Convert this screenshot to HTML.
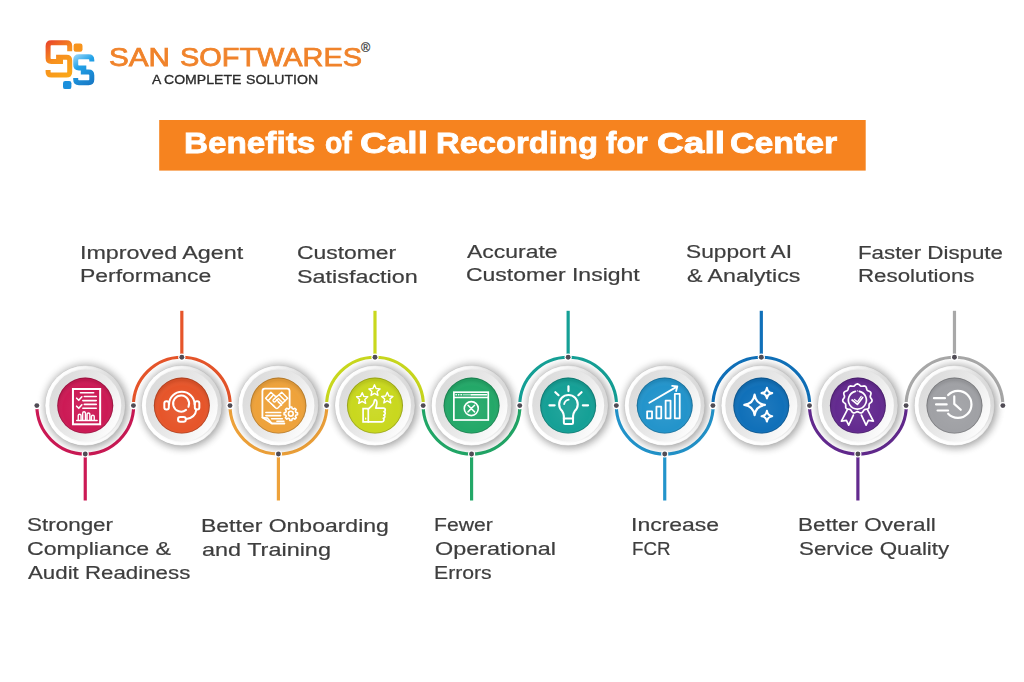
<!DOCTYPE html>
<html><head><meta charset="utf-8">
<style>
html,body{margin:0;padding:0;background:#fff;}
body{width:1024px;height:682px;position:relative;overflow:hidden;}
.lb{position:absolute;font-family:"Liberation Sans",sans-serif;color:#3e3e3e;-webkit-text-stroke:0.2px #3e3e3e;line-height:0;white-space:nowrap;transform-origin:0 0;}
.t{position:absolute;font-family:"Liberation Sans",sans-serif;white-space:nowrap;line-height:0;transform-origin:0 0;}
svg{position:absolute;left:0;top:0;}
</style></head><body>
<svg width="1024" height="682" viewBox="0 0 1024 682">
<defs>
<linearGradient id="gRim" x1="0.1" y1="0.7" x2="0.9" y2="0.3"><stop offset="0" stop-color="#fff" stop-opacity="1"/><stop offset="0.6" stop-color="#fff" stop-opacity="0.7"/><stop offset="1" stop-color="#fff" stop-opacity="0"/></linearGradient>
<radialGradient id="gCol" cx="0.5" cy="0.55" r="0.5"><stop offset="0" stop-color="#fff" stop-opacity="0.07"/><stop offset="0.8" stop-color="#fff" stop-opacity="0"/><stop offset="1" stop-color="#000" stop-opacity="0.08"/></radialGradient>
<filter id="sh" x="-50%" y="-50%" width="200%" height="200%"><feGaussianBlur stdDeviation="4"/></filter>
<linearGradient id="gOuter" x1="0.05" y1="0.65" x2="0.95" y2="0.35"><stop offset="0" stop-color="#ffffff"/><stop offset="0.5" stop-color="#f5f5f5"/><stop offset="1" stop-color="#d9d9d9"/></linearGradient>
<linearGradient id="gInner" x1="0.1" y1="0.25" x2="0.9" y2="0.75"><stop offset="0" stop-color="#dcdcdc"/><stop offset="0.55" stop-color="#eaeaea"/><stop offset="1" stop-color="#fbfbfb"/></linearGradient>
<linearGradient id="logoO" gradientUnits="userSpaceOnUse" x1="46" y1="41" x2="72" y2="78"><stop offset="0" stop-color="#e8412a"/><stop offset="0.45" stop-color="#f7901e"/><stop offset="1" stop-color="#fbab18"/></linearGradient>
<linearGradient id="logoB" gradientUnits="userSpaceOnUse" x1="74" y1="55" x2="94" y2="85"><stop offset="0" stop-color="#9ad6f7"/><stop offset="0.35" stop-color="#22a2e8"/><stop offset="1" stop-color="#1775c2"/></linearGradient>
</defs>
<rect x="159.2" y="120" width="706.5" height="50.6" fill="#f6831f"/>

<g fill="none" stroke-width="5" stroke-linecap="butt" stroke-linejoin="round">
<path d="M69.7,51.3 V46 Q69.7,42.8 66.5,42.8 H51.3 Q48.1,42.8 48.1,46 V58.3 Q48.1,61.5 51.3,61.5 H63" stroke="url(#logoO)"/>
<path d="M56.1,57.2 H66.5 Q69.7,57.2 69.7,60.4 V71.9 Q69.7,75.1 66.5,75.1 H51.3 Q48.1,75.1 48.1,71.9 V70" stroke="url(#logoO)"/>
<path d="M91.8,61.5 V60 Q91.8,56.8 88.6,56.8 H78.9 Q75.7,56.8 75.7,60 V64.7 Q75.7,67.9 78.9,67.9 H86.3" stroke="url(#logoB)"/>
<path d="M80.8,72.1 H88.6 Q91.8,72.1 91.8,75.3 V79.5 Q91.8,82.7 88.6,82.7 H78.9 Q75.7,82.7 75.7,79.5 V78" stroke="url(#logoB)"/>
</g>
<rect x="73.6" y="43.6" width="8.9" height="8.1" rx="2.2" fill="#f7941d"/>
<rect x="63" y="81" width="8.4" height="8.1" rx="2.2" fill="#1a8fdc"/>

<path d="M36.85,405.6 A48.4,48.4 0 0 0 133.65,405.6" fill="none" stroke="#cc1a55" stroke-width="3.1"/><line x1="85.25" y1="454.00" x2="85.25" y2="500.5" stroke="#cc1a55" stroke-width="3.2"/><path d="M133.43,405.6 A48.4,48.4 0 0 1 230.23,405.6" fill="none" stroke="#e6552a" stroke-width="3.1"/><line x1="181.83" y1="310.8" x2="181.83" y2="357.20" stroke="#e6552a" stroke-width="3.2"/><path d="M230.01,405.6 A48.4,48.4 0 0 0 326.81,405.6" fill="none" stroke="#eea23a" stroke-width="3.1"/><line x1="278.41" y1="454.00" x2="278.41" y2="500.5" stroke="#eea23a" stroke-width="3.2"/><path d="M326.59,405.6 A48.4,48.4 0 0 1 423.39,405.6" fill="none" stroke="#c9d81e" stroke-width="3.1"/><line x1="374.99" y1="310.8" x2="374.99" y2="357.20" stroke="#c9d81e" stroke-width="3.2"/><path d="M423.17,405.6 A48.4,48.4 0 0 0 519.97,405.6" fill="none" stroke="#23a868" stroke-width="3.1"/><line x1="471.57" y1="454.00" x2="471.57" y2="500.5" stroke="#23a868" stroke-width="3.2"/><path d="M519.75,405.6 A48.4,48.4 0 0 1 616.55,405.6" fill="none" stroke="#15a096" stroke-width="3.1"/><line x1="568.15" y1="310.8" x2="568.15" y2="357.20" stroke="#15a096" stroke-width="3.2"/><path d="M616.33,405.6 A48.4,48.4 0 0 0 713.13,405.6" fill="none" stroke="#2394cb" stroke-width="3.1"/><line x1="664.73" y1="454.00" x2="664.73" y2="500.5" stroke="#2394cb" stroke-width="3.2"/><path d="M712.91,405.6 A48.4,48.4 0 0 1 809.71,405.6" fill="none" stroke="#1070b9" stroke-width="3.1"/><line x1="761.31" y1="310.8" x2="761.31" y2="357.20" stroke="#1070b9" stroke-width="3.2"/><path d="M809.49,405.6 A48.4,48.4 0 0 0 906.29,405.6" fill="none" stroke="#632a8f" stroke-width="3.1"/><line x1="857.89" y1="454.00" x2="857.89" y2="500.5" stroke="#632a8f" stroke-width="3.2"/><path d="M906.07,405.6 A48.4,48.4 0 0 1 1002.87,405.6" fill="none" stroke="#a8a8a8" stroke-width="3.1"/><line x1="954.47" y1="310.8" x2="954.47" y2="357.20" stroke="#a8a8a8" stroke-width="3.2"/>
<g transform="translate(85.25,405.6)"><circle r="41.5" fill="#000" opacity="0.22" filter="url(#sh)" transform="translate(0.8,0)"/><circle r="40.5" fill="#000" opacity="0.2" filter="url(#sh)" transform="translate(1.5,2.2)"/><circle r="40" fill="url(#gOuter)" stroke="#000" stroke-opacity="0.05" stroke-width="0.8"/><circle r="38.3" fill="none" stroke="url(#gRim)" stroke-width="2.4"/><circle r="36" fill="url(#gInner)"/><circle r="28" fill="#cc1a55"/><circle r="28" fill="url(#gCol)"/><circle r="27.6" fill="none" stroke="#000" stroke-opacity="0.18" stroke-width="1"/><g stroke="#fff" fill="none" stroke-linecap="round" stroke-linejoin="round"><rect x="-12.3" y="-16.6" width="27.2" height="35.3" stroke-width="2" stroke-linejoin="miter"/><path d="M-4.8,-12.9 H8.4" stroke-width="1.6"/><path d="M-8.6,-7.4 L-6.5,-5.3 L-3.4,-8.8 M-8.6,0.6 L-6.5,2.7 L-3.4,-0.8" stroke-width="1.6"/><path d="M-0.9,-9.1 H11 M-2.4,-5 H11 M-0.9,-1.2 H11 M-2.4,2.6 H11" stroke-width="1.6"/><path d="M-8.5,14.8 H11.8" stroke-width="1.5"/><path d="M-7,14.8 V10 Q-7,8.6 -5.6,8.6 Q-4.2,8.6 -4.2,10 V14.8 M-2.6,14.8 V7.6 Q-2.6,6.2 -1.2,6.2 Q0.2,6.2 0.2,7.6 V14.8 M1.8,14.8 V8.8 Q1.8,7.4 3.2,7.4 Q4.6,7.4 4.6,8.8 V14.8 M6.2,14.8 V11 Q6.2,9.6 7.6,9.6 Q9,9.6 9,11 V14.8" stroke-width="1.4"/></g></g>
<g transform="translate(181.83,405.6)"><circle r="41.5" fill="#000" opacity="0.22" filter="url(#sh)" transform="translate(0.8,0)"/><circle r="40.5" fill="#000" opacity="0.2" filter="url(#sh)" transform="translate(1.5,2.2)"/><circle r="40" fill="url(#gOuter)" stroke="#000" stroke-opacity="0.05" stroke-width="0.8"/><circle r="38.3" fill="none" stroke="url(#gRim)" stroke-width="2.4"/><circle r="36" fill="url(#gInner)"/><circle r="28" fill="#e6552a"/><circle r="28" fill="url(#gCol)"/><circle r="27.6" fill="none" stroke="#000" stroke-opacity="0.18" stroke-width="1"/><g stroke="#fff" fill="none" stroke-linecap="round" stroke-linejoin="round"><path d="M-12.8,-1 A12.8,12.8 0 0 1 12.8,-1" stroke-width="2"/><path d="M4.2,4.3 A8,8 0 1 1 6.6,1.2" stroke-width="2"/><rect x="-17.5" y="-4.3" width="4.5" height="8.2" rx="2" stroke-width="2"/><rect x="13" y="-4.3" width="4.5" height="8.2" rx="2" stroke-width="2"/><path d="M14.5,4 Q13.5,12 4.5,13.5" stroke-width="2"/><rect x="-3.8" y="11.5" width="7.8" height="4.6" rx="2.3" stroke-width="2"/></g></g>
<g transform="translate(278.41,405.6)"><circle r="41.5" fill="#000" opacity="0.22" filter="url(#sh)" transform="translate(0.8,0)"/><circle r="40.5" fill="#000" opacity="0.2" filter="url(#sh)" transform="translate(1.5,2.2)"/><circle r="40" fill="url(#gOuter)" stroke="#000" stroke-opacity="0.05" stroke-width="0.8"/><circle r="38.3" fill="none" stroke="url(#gRim)" stroke-width="2.4"/><circle r="36" fill="url(#gInner)"/><circle r="28" fill="#eea23a"/><circle r="28" fill="url(#gCol)"/><circle r="27.6" fill="none" stroke="#000" stroke-opacity="0.18" stroke-width="1"/><g stroke="#fff" fill="none" stroke-linecap="round" stroke-linejoin="round"><path d="M6,17.9 H-6.5 L-16,11.9 V-14.5 Q-16,-17 -13.5,-17 H8.7 Q11.2,-17 11.2,-14.5 V0.6" stroke-width="1.8"/><path d="M-16,11.9 L-11,12.5 L-6.5,17.9" stroke-width="1.6"/><path d="M-12.8,-7.3 L-7.5,-13.3 L-4.9,-10.8 L-10.3,-4.8 Z M3.3,-13.3 L9.3,-7.3 L6.7,-4.8 L0.7,-10.8 Z" stroke-width="1.5"/><path d="M-10.3,-4.8 L-2.5,2.5 Q-1.5,3.5 -0.5,2.5 L6.7,-4.8 M0.7,-10.8 L-1,-9.5 Q-3,-8.5 -4.9,-10.8 M-1,-9.5 L-5,-6 Q-6,-5 -5,-4 Q-4,-3 -3,-4 L0,-7 L4.5,-2.5" stroke-width="1.4"/><path d="M-7.5,-2.3 L-4.3,0.7 M-5.8,-0.2 L-3,2.3 M-2,-6 L2.3,-1.8 M-0.3,-3.5 L3.2,-0.3" stroke-width="1.2"/><path d="M-12.5,6.9 H2.3 M-12.5,10 H2.3 M-6.8,13.1 H3.9 M-1.5,15.7 H5.5" stroke-width="1.6"/><polygon points="17.54,6.79 19.12,7.08 19.12,9.12 17.54,9.41 16.96,10.80 17.87,12.14 16.44,13.57 15.10,12.66 13.71,13.24 13.42,14.82 11.38,14.82 11.09,13.24 9.70,12.66 8.36,13.57 6.93,12.14 7.84,10.80 7.26,9.41 5.68,9.12 5.68,7.08 7.26,6.79 7.84,5.40 6.93,4.06 8.36,2.63 9.70,3.54 11.09,2.96 11.38,1.38 13.42,1.38 13.71,2.96 15.10,3.54 16.44,2.63 17.87,4.06 16.96,5.40" stroke-width="1.6"/><circle cx="12.4" cy="8.1" r="2.4" stroke-width="1.6"/></g></g>
<g transform="translate(374.99,405.6)"><circle r="41.5" fill="#000" opacity="0.22" filter="url(#sh)" transform="translate(0.8,0)"/><circle r="40.5" fill="#000" opacity="0.2" filter="url(#sh)" transform="translate(1.5,2.2)"/><circle r="40" fill="url(#gOuter)" stroke="#000" stroke-opacity="0.05" stroke-width="0.8"/><circle r="38.3" fill="none" stroke="url(#gRim)" stroke-width="2.4"/><circle r="36" fill="url(#gInner)"/><circle r="28" fill="#c9d81e"/><circle r="28" fill="url(#gCol)"/><circle r="27.6" fill="none" stroke="#000" stroke-opacity="0.18" stroke-width="1"/><g stroke="#fff" fill="none" stroke-linecap="round" stroke-linejoin="round"><polygon points="-12.80,-12.90 -11.17,-9.24 -7.19,-8.82 -10.16,-6.14 -9.33,-2.23 -12.80,-4.23 -16.27,-2.23 -15.44,-6.14 -18.41,-8.82 -14.43,-9.24" stroke-width="1.4"/><polygon points="-0.50,-20.80 1.13,-17.14 5.11,-16.72 2.14,-14.04 2.97,-10.13 -0.50,-12.13 -3.97,-10.13 -3.14,-14.04 -6.11,-16.72 -2.13,-17.14" stroke-width="1.4"/><polygon points="12.30,-13.30 13.93,-9.64 17.91,-9.22 14.94,-6.54 15.77,-2.63 12.30,-4.63 8.83,-2.63 9.66,-6.54 6.69,-9.22 10.67,-9.64" stroke-width="1.4"/><rect x="-11.9" y="3" width="5.2" height="13.3" stroke-width="1.7" stroke-linejoin="miter"/><path d="M-6.7,3.5 L-2.5,-0.5 Q-0.6,-2.5 -0.6,-5 Q-0.3,-6.5 1,-5.5 Q2.5,-4 1.5,0 L0.8,2.5 H8.5 Q10.3,2.5 10.3,4.3 Q10.3,5.8 9,6 Q10.5,6.5 10.2,8 Q10,9.3 8.8,9.5 Q10,10 9.8,11.3 Q9.5,12.6 8.3,12.8 Q9.2,13.4 9,14.6 Q8.7,16.3 7,16.3 H-6.7" stroke-width="1.7"/><path d="M-9.3,13.5 V12.5" stroke-width="1.2"/></g></g>
<g transform="translate(471.57,405.6)"><circle r="41.5" fill="#000" opacity="0.22" filter="url(#sh)" transform="translate(0.8,0)"/><circle r="40.5" fill="#000" opacity="0.2" filter="url(#sh)" transform="translate(1.5,2.2)"/><circle r="40" fill="url(#gOuter)" stroke="#000" stroke-opacity="0.05" stroke-width="0.8"/><circle r="38.3" fill="none" stroke="url(#gRim)" stroke-width="2.4"/><circle r="36" fill="url(#gInner)"/><circle r="28" fill="#23a868"/><circle r="28" fill="url(#gCol)"/><circle r="27.6" fill="none" stroke="#000" stroke-opacity="0.18" stroke-width="1"/><g stroke="#fff" fill="none" stroke-linecap="round" stroke-linejoin="round"><rect x="-17.7" y="-13.4" width="34.4" height="27.8" stroke-width="1.7" stroke-linejoin="miter"/><path d="M-17.7,-8.2 H16.7" stroke-width="1.5"/><path d="M-15.6,-10.8 H-15.2 M-13.1,-10.8 H-12.7 M-10.6,-10.8 H-10.2" stroke-width="1.4"/><path d="M-0.2,-10.8 H15" stroke-width="1.5"/><path d="M-8.5,-10.8 H-0.2" stroke-width="0.8"/><circle cx="-0.3" cy="3.0" r="7" stroke-width="1.6"/><path d="M-3.6,-0.3 L3,6.3 M3,-0.3 L-3.6,6.3" stroke-width="1.5"/></g></g>
<g transform="translate(568.15,405.6)"><circle r="41.5" fill="#000" opacity="0.22" filter="url(#sh)" transform="translate(0.8,0)"/><circle r="40.5" fill="#000" opacity="0.2" filter="url(#sh)" transform="translate(1.5,2.2)"/><circle r="40" fill="url(#gOuter)" stroke="#000" stroke-opacity="0.05" stroke-width="0.8"/><circle r="38.3" fill="none" stroke="url(#gRim)" stroke-width="2.4"/><circle r="36" fill="url(#gInner)"/><circle r="28" fill="#15a096"/><circle r="28" fill="url(#gCol)"/><circle r="27.6" fill="none" stroke="#000" stroke-opacity="0.18" stroke-width="1"/><g stroke="#fff" fill="none" stroke-linecap="round" stroke-linejoin="round"><path d="M-4.3,13 V10.5 Q-4.3,8 -6,5.5 A9.3,9.3 0 1 1 6.6,5.5 Q4.9,8 4.9,10.5 V13" stroke-width="2.1"/><path d="M-4.3,13 H4.9 V17 Q4.9,18.5 3.4,18.5 H-2.8 Q-4.3,18.5 -4.3,17 Z" stroke-width="2"/><path d="M-4,-1.5 Q-3.5,-5 0.5,-6" stroke-width="1.8"/><path d="M0.3,-19.3 V-14.5 M-12.8,-13.4 L-9.6,-10.4 M13.4,-13.4 L10.2,-10.4 M-18.7,-0.3 H-13.5 M14.7,-0.3 H19.9" stroke-width="2.2"/></g></g>
<g transform="translate(664.73,405.6)"><circle r="41.5" fill="#000" opacity="0.22" filter="url(#sh)" transform="translate(0.8,0)"/><circle r="40.5" fill="#000" opacity="0.2" filter="url(#sh)" transform="translate(1.5,2.2)"/><circle r="40" fill="url(#gOuter)" stroke="#000" stroke-opacity="0.05" stroke-width="0.8"/><circle r="38.3" fill="none" stroke="url(#gRim)" stroke-width="2.4"/><circle r="36" fill="url(#gInner)"/><circle r="28" fill="#2394cb"/><circle r="28" fill="url(#gCol)"/><circle r="27.6" fill="none" stroke="#000" stroke-opacity="0.18" stroke-width="1"/><g stroke="#fff" fill="none" stroke-linecap="round" stroke-linejoin="round" stroke-linejoin="miter"><rect x="-17.6" y="5.7" width="4.9" height="7" stroke-width="1.8"/><rect x="-8.3" y="1.1" width="4.8" height="11.6" stroke-width="1.8"/><rect x="0.9" y="-5" width="4.9" height="17.7" stroke-width="1.8"/><rect x="10.1" y="-11.7" width="4.9" height="24.4" stroke-width="1.8"/><path d="M-15.4,-2.9 L12.6,-19.2 M7.4,-19.8 L12.6,-19.2 L11.4,-14.6" stroke-width="1.8" stroke-linejoin="round"/></g></g>
<g transform="translate(761.31,405.6)"><circle r="41.5" fill="#000" opacity="0.22" filter="url(#sh)" transform="translate(0.8,0)"/><circle r="40.5" fill="#000" opacity="0.2" filter="url(#sh)" transform="translate(1.5,2.2)"/><circle r="40" fill="url(#gOuter)" stroke="#000" stroke-opacity="0.05" stroke-width="0.8"/><circle r="38.3" fill="none" stroke="url(#gRim)" stroke-width="2.4"/><circle r="36" fill="url(#gInner)"/><circle r="28" fill="#1070b9"/><circle r="28" fill="url(#gCol)"/><circle r="27.6" fill="none" stroke="#000" stroke-opacity="0.18" stroke-width="1"/><g stroke="#fff" fill="none" stroke-linecap="round" stroke-linejoin="round"><path d="M-6.7,-11.0 Q-5.464,-1.936 3.6000000000000005,-0.7 Q-5.464,0.536 -6.7,9.600000000000001 Q-7.936,0.536 -17.0,-0.7 Q-7.936,-1.936 -6.7,-11.0 Z" stroke-width="2.2"/><path d="M5.6,-17.8 Q6.236,-13.136 10.899999999999999,-12.5 Q6.236,-11.864 5.6,-7.2 Q4.9639999999999995,-11.864 0.2999999999999998,-12.5 Q4.9639999999999995,-13.136 5.6,-17.8 Z" stroke-width="2.1"/><path d="M5.6,5.3 Q6.236,9.964 10.899999999999999,10.6 Q6.236,11.235999999999999 5.6,15.899999999999999 Q4.9639999999999995,11.235999999999999 0.2999999999999998,10.6 Q4.9639999999999995,9.964 5.6,5.3 Z" stroke-width="2.1"/></g></g>
<g transform="translate(857.89,405.6)"><circle r="41.5" fill="#000" opacity="0.22" filter="url(#sh)" transform="translate(0.8,0)"/><circle r="40.5" fill="#000" opacity="0.2" filter="url(#sh)" transform="translate(1.5,2.2)"/><circle r="40" fill="url(#gOuter)" stroke="#000" stroke-opacity="0.05" stroke-width="0.8"/><circle r="38.3" fill="none" stroke="url(#gRim)" stroke-width="2.4"/><circle r="36" fill="url(#gInner)"/><circle r="28" fill="#632a8f"/><circle r="28" fill="url(#gCol)"/><circle r="27.6" fill="none" stroke="#000" stroke-opacity="0.18" stroke-width="1"/><g stroke="#fff" fill="none" stroke-linecap="round" stroke-linejoin="round"><path d="M-0.50,-21.70 L0.54,-21.40 L1.48,-20.66 L2.32,-19.86 L3.16,-19.37 L4.14,-19.33 L5.27,-19.54 L6.47,-19.66 L7.50,-19.35 L8.21,-18.54 L8.60,-17.40 L8.88,-16.28 L9.32,-15.41 L10.12,-14.85 L11.19,-14.41 L12.26,-13.87 L12.96,-13.05 L13.12,-11.98 L12.84,-10.82 L12.46,-9.72 L12.37,-8.75 L12.73,-7.85 L13.40,-6.90 L14.00,-5.86 L14.15,-4.79 L13.70,-3.81 L12.84,-2.98 L11.93,-2.26 L11.33,-1.50 L11.14,-0.54 L11.19,0.61 L11.14,1.81 L10.69,2.79 L9.78,3.38 L8.60,3.60 L7.45,3.72 L6.53,4.04 L5.86,4.74 L5.27,5.74 L4.58,6.72 L3.67,7.30 L2.59,7.30 L1.48,6.86 L0.45,6.33 L-0.50,6.10 L-1.45,6.33 L-2.48,6.86 L-3.59,7.30 L-4.67,7.30 L-5.58,6.72 L-6.27,5.74 L-6.86,4.74 L-7.53,4.04 L-8.45,3.72 L-9.60,3.60 L-10.78,3.38 L-11.69,2.79 L-12.14,1.81 L-12.19,0.61 L-12.14,-0.54 L-12.33,-1.50 L-12.93,-2.26 L-13.84,-2.98 L-14.70,-3.81 L-15.15,-4.79 L-15.00,-5.86 L-14.40,-6.90 L-13.73,-7.85 L-13.37,-8.75 L-13.46,-9.72 L-13.84,-10.82 L-14.12,-11.98 L-13.96,-13.05 L-13.26,-13.87 L-12.19,-14.41 L-11.12,-14.85 L-10.32,-15.41 L-9.88,-16.28 L-9.60,-17.40 L-9.21,-18.54 L-8.50,-19.35 L-7.47,-19.66 L-6.27,-19.54 L-5.14,-19.33 L-4.16,-19.37 L-3.32,-19.86 L-2.48,-20.66 L-1.54,-21.40 L-0.50,-21.70 Z" stroke-width="1.7"/><path d="M-2.5,-14.3 A9,9 0 1 0 1.5,-14.3" stroke-width="1.7"/><circle cx="-0.5" cy="-14.8" r="0.6" fill="#fff" stroke="none"/><path d="M-5.8,-5.6 L-0.5,-1.2 L4.8,-8.2" stroke-width="1.7"/><path d="M-3.5,-6.2 L-0.5,-3.8 L3.3,-9.3" stroke-width="1.2"/><path d="M-10.5,4 L-16.5,15.5 L-11.5,14.8 L-9.2,19.6 L-4.5,9.5" stroke-width="1.7"/><path d="M9.5,4 L15.5,15.5 L10.5,14.8 L8.2,19.6 L3.5,9.5" stroke-width="1.7"/></g></g>
<g transform="translate(954.47,405.6)"><circle r="41.5" fill="#000" opacity="0.22" filter="url(#sh)" transform="translate(0.8,0)"/><circle r="40.5" fill="#000" opacity="0.2" filter="url(#sh)" transform="translate(1.5,2.2)"/><circle r="40" fill="url(#gOuter)" stroke="#000" stroke-opacity="0.05" stroke-width="0.8"/><circle r="38.3" fill="none" stroke="url(#gRim)" stroke-width="2.4"/><circle r="36" fill="url(#gInner)"/><circle r="28" fill="#a0a1a5"/><circle r="28" fill="url(#gCol)"/><circle r="27.6" fill="none" stroke="#000" stroke-opacity="0.18" stroke-width="1"/><g stroke="#fff" fill="none" stroke-linecap="round" stroke-linejoin="round"><path d="M-6.3,-10.5 A13.5,13.5 0 1 1 -6.3,8.1" stroke-width="2.2"/><path d="M-0.2,-9.2 V-1.7 L6.3,4.2" stroke-width="2.2"/><path d="M-20.5,-7.4 H-9.5 M-18.4,-1.2 H-7.8 M-16.9,4.9 H-6.4" stroke-width="2.2"/></g></g>

<circle cx="36.85" cy="405.60" r="3.6" fill="#fff"/><circle cx="36.85" cy="405.60" r="2.45" fill="#504c55"/><circle cx="133.65" cy="405.60" r="3.6" fill="#fff"/><circle cx="133.65" cy="405.60" r="2.45" fill="#504c55"/><circle cx="85.25" cy="454.00" r="3.6" fill="#fff"/><circle cx="85.25" cy="454.00" r="2.45" fill="#504c55"/><circle cx="133.43" cy="405.60" r="3.6" fill="#fff"/><circle cx="133.43" cy="405.60" r="2.45" fill="#504c55"/><circle cx="230.23" cy="405.60" r="3.6" fill="#fff"/><circle cx="230.23" cy="405.60" r="2.45" fill="#504c55"/><circle cx="181.83" cy="357.20" r="3.6" fill="#fff"/><circle cx="181.83" cy="357.20" r="2.45" fill="#504c55"/><circle cx="230.01" cy="405.60" r="3.6" fill="#fff"/><circle cx="230.01" cy="405.60" r="2.45" fill="#504c55"/><circle cx="326.81" cy="405.60" r="3.6" fill="#fff"/><circle cx="326.81" cy="405.60" r="2.45" fill="#504c55"/><circle cx="278.41" cy="454.00" r="3.6" fill="#fff"/><circle cx="278.41" cy="454.00" r="2.45" fill="#504c55"/><circle cx="326.59" cy="405.60" r="3.6" fill="#fff"/><circle cx="326.59" cy="405.60" r="2.45" fill="#504c55"/><circle cx="423.39" cy="405.60" r="3.6" fill="#fff"/><circle cx="423.39" cy="405.60" r="2.45" fill="#504c55"/><circle cx="374.99" cy="357.20" r="3.6" fill="#fff"/><circle cx="374.99" cy="357.20" r="2.45" fill="#504c55"/><circle cx="423.17" cy="405.60" r="3.6" fill="#fff"/><circle cx="423.17" cy="405.60" r="2.45" fill="#504c55"/><circle cx="519.97" cy="405.60" r="3.6" fill="#fff"/><circle cx="519.97" cy="405.60" r="2.45" fill="#504c55"/><circle cx="471.57" cy="454.00" r="3.6" fill="#fff"/><circle cx="471.57" cy="454.00" r="2.45" fill="#504c55"/><circle cx="519.75" cy="405.60" r="3.6" fill="#fff"/><circle cx="519.75" cy="405.60" r="2.45" fill="#504c55"/><circle cx="616.55" cy="405.60" r="3.6" fill="#fff"/><circle cx="616.55" cy="405.60" r="2.45" fill="#504c55"/><circle cx="568.15" cy="357.20" r="3.6" fill="#fff"/><circle cx="568.15" cy="357.20" r="2.45" fill="#504c55"/><circle cx="616.33" cy="405.60" r="3.6" fill="#fff"/><circle cx="616.33" cy="405.60" r="2.45" fill="#504c55"/><circle cx="713.13" cy="405.60" r="3.6" fill="#fff"/><circle cx="713.13" cy="405.60" r="2.45" fill="#504c55"/><circle cx="664.73" cy="454.00" r="3.6" fill="#fff"/><circle cx="664.73" cy="454.00" r="2.45" fill="#504c55"/><circle cx="712.91" cy="405.60" r="3.6" fill="#fff"/><circle cx="712.91" cy="405.60" r="2.45" fill="#504c55"/><circle cx="809.71" cy="405.60" r="3.6" fill="#fff"/><circle cx="809.71" cy="405.60" r="2.45" fill="#504c55"/><circle cx="761.31" cy="357.20" r="3.6" fill="#fff"/><circle cx="761.31" cy="357.20" r="2.45" fill="#504c55"/><circle cx="809.49" cy="405.60" r="3.6" fill="#fff"/><circle cx="809.49" cy="405.60" r="2.45" fill="#504c55"/><circle cx="906.29" cy="405.60" r="3.6" fill="#fff"/><circle cx="906.29" cy="405.60" r="2.45" fill="#504c55"/><circle cx="857.89" cy="454.00" r="3.6" fill="#fff"/><circle cx="857.89" cy="454.00" r="2.45" fill="#504c55"/><circle cx="906.07" cy="405.60" r="3.6" fill="#fff"/><circle cx="906.07" cy="405.60" r="2.45" fill="#504c55"/><circle cx="1002.87" cy="405.60" r="3.6" fill="#fff"/><circle cx="1002.87" cy="405.60" r="2.45" fill="#504c55"/><circle cx="954.47" cy="357.20" r="3.6" fill="#fff"/><circle cx="954.47" cy="357.20" r="2.45" fill="#504c55"/>
</svg>
<div class="t" style="left:109.48px;top:57.46px;font-size:25.2px;transform:scaleX(1.1773);color:#f0832b;-webkit-text-stroke:0.75px #f0832b;">SAN</div>
<div class="t" style="left:179.61px;top:57.46px;font-size:25.2px;transform:scaleX(1.1481);color:#f0832b;-webkit-text-stroke:0.75px #f0832b;">SOFTWARES</div>
<div class="t" style="left:152.40px;top:79.80px;font-size:12.4px;transform:scaleX(1.1273);color:#2b2b2b;-webkit-text-stroke:0.3px #2b2b2b;">A</div>
<div class="t" style="left:164.49px;top:79.80px;font-size:12.4px;transform:scaleX(1.1358);color:#2b2b2b;-webkit-text-stroke:0.3px #2b2b2b;">COMPLETE</div>
<div class="t" style="left:246.29px;top:79.80px;font-size:12.4px;transform:scaleX(1.1385);color:#2b2b2b;-webkit-text-stroke:0.3px #2b2b2b;">SOLUTION</div>
<div class="t" style="left:361px;top:47.5px;font-size:12.5px;color:#3a3a3a;-webkit-text-stroke:0.2px #3a3a3a;">&#174;</div>
<div class="t" style="left:184.18px;top:142.60px;font-size:30.0px;transform:scaleX(1.1092);font-weight:bold;color:#fff;-webkit-text-stroke:0.8px #fff;">Benefits</div>
<div class="t" style="left:325.33px;top:142.60px;font-size:30.0px;transform:scaleX(0.9468);font-weight:bold;color:#fff;-webkit-text-stroke:0.8px #fff;">of</div>
<div class="t" style="left:359.86px;top:142.60px;font-size:30.0px;transform:scaleX(1.2348);font-weight:bold;color:#fff;-webkit-text-stroke:0.8px #fff;">Call</div>
<div class="t" style="left:435.52px;top:142.60px;font-size:30.0px;transform:scaleX(1.0916);font-weight:bold;color:#fff;-webkit-text-stroke:0.8px #fff;">Recording</div>
<div class="t" style="left:606.18px;top:142.60px;font-size:30.0px;transform:scaleX(1.0403);font-weight:bold;color:#fff;-webkit-text-stroke:0.8px #fff;">for</div>
<div class="t" style="left:656.55px;top:142.60px;font-size:30.0px;transform:scaleX(1.2367);font-weight:bold;color:#fff;-webkit-text-stroke:0.8px #fff;">Call</div>
<div class="t" style="left:729.79px;top:142.60px;font-size:30.0px;transform:scaleX(1.1288);font-weight:bold;color:#fff;-webkit-text-stroke:0.8px #fff;">Center</div>

<div class="lb" style="left:80.23px;top:252.76px;font-size:18.3px;transform:scaleX(1.2741);">Improved Agent</div>
<div class="lb" style="left:80.42px;top:276.46px;font-size:18.3px;transform:scaleX(1.2548);">Performance</div>
<div class="lb" style="left:297.40px;top:252.86px;font-size:18.3px;transform:scaleX(1.2520);">Customer</div>
<div class="lb" style="left:297.38px;top:276.56px;font-size:18.3px;transform:scaleX(1.2774);">Satisfaction</div>
<div class="lb" style="left:467.40px;top:252.06px;font-size:18.3px;transform:scaleX(1.2561);">Accurate</div>
<div class="lb" style="left:466.30px;top:275.46px;font-size:18.3px;transform:scaleX(1.2569);">Customer Insight</div>
<div class="lb" style="left:686.41px;top:252.26px;font-size:18.3px;transform:scaleX(1.2418);">Support AI</div>
<div class="lb" style="left:686.71px;top:275.66px;font-size:18.3px;transform:scaleX(1.2670);">&amp; Analytics</div>
<div class="lb" style="left:858.17px;top:252.66px;font-size:18.3px;transform:scaleX(1.2193);">Faster Dispute</div>
<div class="lb" style="left:858.17px;top:276.26px;font-size:18.3px;transform:scaleX(1.2193);">Resolutions</div>
<div class="lb" style="left:26.83px;top:525.36px;font-size:18.3px;transform:scaleX(1.2276);">Stronger</div>
<div class="lb" style="left:26.79px;top:548.76px;font-size:18.3px;transform:scaleX(1.2658);">Compliance &amp;</div>
<div class="lb" style="left:27.90px;top:573.36px;font-size:18.3px;transform:scaleX(1.2189);">Audit Readiness</div>
<div class="lb" style="left:201.31px;top:525.86px;font-size:18.3px;transform:scaleX(1.2573);">Better Onboarding</div>
<div class="lb" style="left:202.24px;top:549.56px;font-size:18.3px;transform:scaleX(1.2812);">and Training</div>
<div class="lb" style="left:434.47px;top:525.06px;font-size:18.3px;transform:scaleX(1.1560);">Fewer</div>
<div class="lb" style="left:435.08px;top:548.66px;font-size:18.3px;transform:scaleX(1.2791);">Operational</div>
<div class="lb" style="left:434.46px;top:573.06px;font-size:18.3px;transform:scaleX(1.1600);">Errors</div>
<div class="lb" style="left:631.16px;top:525.16px;font-size:18.3px;transform:scaleX(1.2569);">Increase</div>
<div class="lb" style="left:631.66px;top:549.06px;font-size:18.3px;transform:scaleX(1.0249);">FCR</div>
<div class="lb" style="left:798.15px;top:525.16px;font-size:18.3px;transform:scaleX(1.2317);">Better Overall</div>
<div class="lb" style="left:798.93px;top:549.06px;font-size:18.3px;transform:scaleX(1.2217);">Service Quality</div>

</body></html>
